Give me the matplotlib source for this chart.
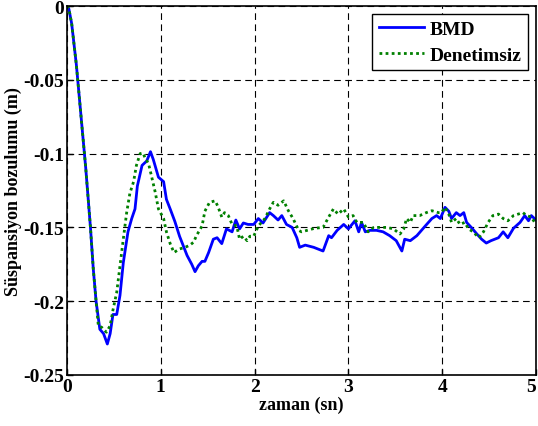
import matplotlib
matplotlib.use("Agg")
import matplotlib.pyplot as plt
import numpy as np

# BMD (controlled) series
t_bmd = [0.0, 0.02, 0.05, 0.10, 0.15, 0.20, 0.25, 0.28, 0.31, 0.35, 0.39, 0.43, 0.46, 0.49, 0.53,
         0.565, 0.60, 0.65, 0.69, 0.725, 0.75, 0.80, 0.85, 0.89, 0.92, 0.975, 1.03, 1.06, 1.10,
         1.15, 1.20, 1.28, 1.33, 1.365, 1.40, 1.44, 1.47, 1.51, 1.56, 1.60, 1.65, 1.70, 1.76,
         1.80, 1.84, 1.88, 1.93, 1.99, 2.04, 2.09, 2.16, 2.20, 2.25, 2.29, 2.34, 2.40, 2.45,
         2.48, 2.54, 2.63, 2.73, 2.79, 2.82, 2.88, 2.95, 3.00, 3.07, 3.11, 3.14, 3.18, 3.23,
         3.30, 3.37, 3.44, 3.51, 3.57, 3.60, 3.66, 3.73, 3.82, 3.89, 3.94, 3.98, 4.03, 4.07,
         4.10, 4.15, 4.19, 4.23, 4.26, 4.31, 4.37, 4.42, 4.47, 4.52, 4.60, 4.65, 4.70, 4.76,
         4.83, 4.88, 4.92, 4.95, 5.00]
v_bmd = [0.0, -0.002, -0.012, -0.040, -0.075, -0.110, -0.150, -0.178, -0.200, -0.219, -0.222,
         -0.229, -0.222, -0.209, -0.209, -0.196, -0.174, -0.153, -0.144, -0.1375, -0.122, -0.108,
         -0.105, -0.0987, -0.104, -0.116, -0.119, -0.131, -0.1375, -0.146, -0.156, -0.169, -0.175,
         -0.180, -0.176, -0.173, -0.173, -0.167, -0.158, -0.157, -0.161, -0.151, -0.153, -0.145,
         -0.151, -0.147, -0.148, -0.148, -0.144, -0.147, -0.140, -0.142, -0.145, -0.142, -0.148,
         -0.150, -0.157, -0.1635, -0.162, -0.1635, -0.166, -0.1556, -0.157, -0.152, -0.148,
         -0.151, -0.1455, -0.153, -0.1466, -0.153, -0.152, -0.152, -0.153, -0.1556, -0.159,
         -0.166, -0.158, -0.159, -0.1556, -0.149, -0.144, -0.142, -0.144, -0.1364, -0.139,
         -0.144, -0.140, -0.142, -0.140, -0.1466, -0.150, -0.1545, -0.158, -0.1606, -0.159,
         -0.157, -0.153, -0.157, -0.1506, -0.1466, -0.142, -0.1455, -0.142, -0.145]

# Denetimsiz (uncontrolled) series
t_den = [0.0, 0.02, 0.05, 0.10, 0.15, 0.20, 0.25, 0.28, 0.31, 0.334, 0.37, 0.42, 0.46, 0.49,
         0.53, 0.565, 0.60, 0.636, 0.67, 0.71, 0.74, 0.78, 0.81, 0.83, 0.87, 0.90, 0.94, 0.975,
         1.03, 1.06, 1.10, 1.14, 1.20, 1.26, 1.31, 1.35, 1.38, 1.44, 1.47, 1.52, 1.58, 1.61,
         1.65, 1.68, 1.72, 1.76, 1.81, 1.84, 1.88, 1.92, 1.95, 1.99, 2.04, 2.11, 2.16, 2.20,
         2.25, 2.31, 2.36, 2.41, 2.47, 2.50, 2.56, 2.64, 2.73, 2.79, 2.84, 2.89, 2.95, 3.00,
         3.05, 3.09, 3.16, 3.21, 3.27, 3.34, 3.41, 3.48, 3.55, 3.59, 3.62, 3.66, 3.69, 3.76,
         3.83, 3.89, 3.96, 3.99, 4.03, 4.07, 4.10, 4.15, 4.19, 4.24, 4.28, 4.33, 4.39, 4.44,
         4.49, 4.54, 4.60, 4.65, 4.70, 4.76, 4.81, 4.86, 4.90, 4.95, 5.00]
v_den = [0.0, -0.002, -0.012, -0.040, -0.075, -0.110, -0.150, -0.178, -0.200, -0.2166,
         -0.2177, -0.221, -0.2166, -0.206, -0.194, -0.176, -0.158, -0.140, -0.127, -0.119,
         -0.108, -0.100, -0.0996, -0.1025, -0.107, -0.115, -0.126, -0.1375, -0.144, -0.153,
         -0.161, -0.167, -0.1646, -0.1635, -0.162, -0.160, -0.1556, -0.149, -0.139, -0.133,
         -0.132, -0.136, -0.143, -0.140, -0.142, -0.148, -0.149, -0.158, -0.156, -0.159,
         -0.156, -0.156, -0.149, -0.144, -0.1375, -0.133, -0.135, -0.132, -0.1387, -0.144,
         -0.152, -0.153, -0.152, -0.1506, -0.150, -0.143, -0.1375, -0.141, -0.1375, -0.143,
         -0.142, -0.1466, -0.1466, -0.153, -0.150, -0.150, -0.150, -0.151, -0.1545, -0.151,
         -0.144, -0.1466, -0.142, -0.142, -0.140, -0.1387, -0.140, -0.140, -0.1364, -0.141,
         -0.1466, -0.144, -0.148, -0.1466, -0.151, -0.153, -0.157, -0.153, -0.1466, -0.142,
         -0.141, -0.144, -0.1455, -0.142, -0.141, -0.140, -0.142, -0.143, -0.148]

xticks = [0, 1, 2, 3, 4, 5]
yticks = [0, -0.05, -0.1, -0.15, -0.2, -0.25]
yticklabels = ["0", "-0.05", "-0.1", "-0.15", "-0.2", "-0.25"]

plt.rcParams['font.family'] = ['Liberation Serif', 'DejaVu Serif']
plt.rcParams['font.weight'] = 'bold'

fig = plt.figure(figsize=(5.38, 4.27), dpi=100)
ax = fig.add_axes([67/538, 1-376/427, 469/538, 369/427])

ax.plot(t_bmd, v_bmd, color=(0, 0, 1), lw=2.0, label='BMD')
ax.plot(t_den, v_den, color=(0, 0.5, 0), lw=2.0, linestyle=(0, (1, 1.2)), label='Denetimsiz')

ax.set_xlim(0, 5)
ax.set_ylim(-0.25, 0)
ax.set_xticks(xticks)
ax.set_xticklabels([str(x) for x in xticks])
ax.set_yticks(yticks)
ax.set_yticklabels(yticklabels)
ax.tick_params(direction='in', length=4, width=1, labelsize=14, pad=2)
for lab in ax.get_xticklabels() + ax.get_yticklabels():
    lab.set_fontweight('bold')
# keep the last x tick label inside the canvas
ax.get_xticklabels()[-1].set_horizontalalignment('right')
ax.grid(True, color='black', linestyle=(0, (6, 4)), lw=0.8)
for s in ax.spines.values():
    s.set_linewidth(1.2)

ax.set_xlabel('zaman (sn)', fontsize=13, fontweight='bold', labelpad=1)
ax.set_ylabel('Süspansiyon bozulumu (m)', fontsize=13, fontweight='bold', labelpad=1)

leg = ax.legend(loc='upper right', fontsize=14, frameon=True, fancybox=False,
                edgecolor='black', framealpha=1, borderaxespad=0.4,
                handlelength=2.3, borderpad=0.35, labelspacing=0.4, handletextpad=0.3)
leg.get_frame().set_linewidth(1.0)
for txt in leg.get_texts():
    txt.set_fontweight('bold')

fig.savefig('out.png', dpi=100)
